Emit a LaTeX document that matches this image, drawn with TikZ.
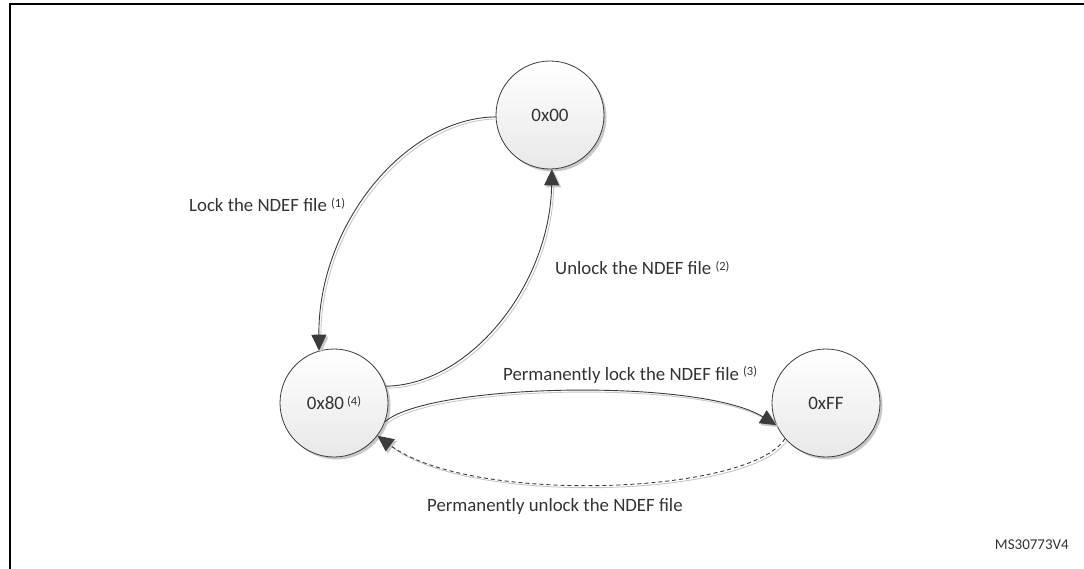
\documentclass[tikz,border=0pt]{standalone}
\usepackage{fontspec}
\setmainfont{Carlito}
\usetikzlibrary{arrows.meta,shadows,shapes.geometric}
\definecolor{txt}{HTML}{333333}
\definecolor{edge}{HTML}{3C3C3C}
\newcommand{\supnum}[1]{\raisebox{0.55ex}{\fontsize{12.5}{12.5}\selectfont(#1)}}
\tikzset{
  state/.style={circle, minimum size=108pt, inner sep=0pt, draw=edge, line width=0.8pt,
    top color=white, bottom color=black!9, text=txt,
    font=\fontsize{19}{22}\selectfont,
    drop shadow={shadow xshift=2.5pt, shadow yshift=-2.5pt, opacity=0.22, fill=black}},
  lbl/.style={inner sep=0pt, text=txt, font=\fontsize{18.8}{22}\selectfont},
  conn/.style={draw=edge, line width=0.9pt, -{Triangle[length=16pt,width=15pt]},
    preaction={draw=black!22, line width=0.9pt, transform canvas={xshift=2pt,yshift=-2pt}}},
  dconn/.style={conn, dash pattern=on 4pt off 3pt}
}
\begin{document}
\begin{tikzpicture}[x=1pt,y=-1pt]
\useasboundingbox (0,0) rectangle (1084,569);
\draw[line width=2pt] (1084,4) -- (10,4) -- (10,569);

\node[state] (a) at (550,115) {0x00};
\node[state] (b) at (334,403) {0x80\,\supnum{4}};
\node[state] (f) at (826,403) {0xFF};

\draw[conn] (a.182) .. controls (405,118) and (318,225) .. (b.106);
\draw[conn] (b.18) .. controls (470,385) and (550,285) .. (a.272);
\draw[conn] (b.-20) .. controls (430,383) and (700,378) .. (f.204);
\draw[dconn] (f.221) .. controls (750,495) and (470,505) .. (b.323);

\node[lbl, anchor=west] (l1) at (189,205) {Lock the NDEF file \supnum{1}};
\node[lbl, anchor=west] (l2) at (555,268) {Unlock the NDEF file \supnum{2}};
\node[lbl, anchor=west] (l3) at (503,375) {Permanently lock the NDEF file \supnum{3}};
\node[lbl, anchor=west] (l4) at (427,506) {Permanently unlock the NDEF file};
\node[lbl, anchor=east, font=\fontsize{15}{18}\selectfont] (id) at (1069,545) {MS30773V4};
\end{tikzpicture}
\end{document}
